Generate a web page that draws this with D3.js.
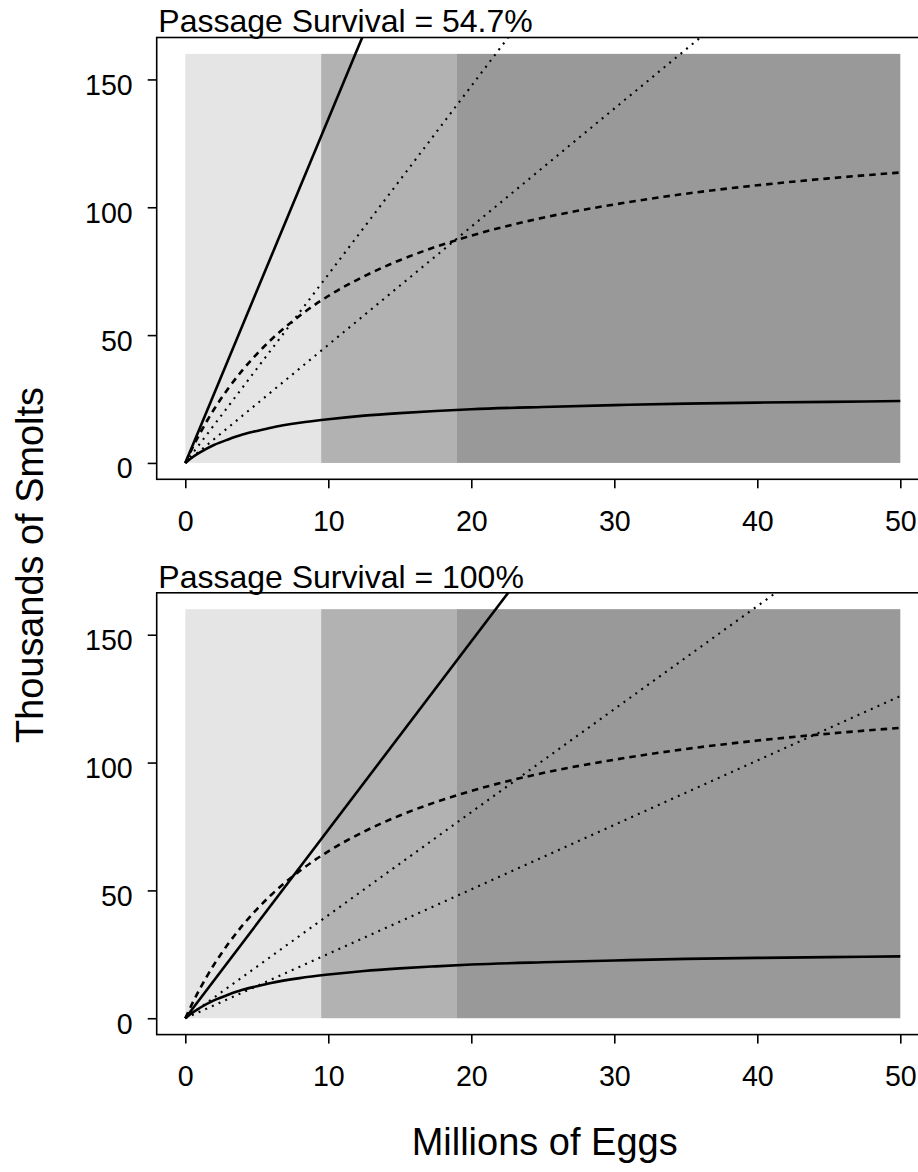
<!DOCTYPE html>
<html>
<head>
<meta charset="utf-8">
<script src="https://cdn.jsdelivr.net/npm/d3@7"></script>
<style>
  html, body { margin: 0; padding: 0; background: #ffffff; }
  svg { display: block; }
  text { font-family: "Liberation Sans", Arial, Helvetica, sans-serif; fill: #000; }
</style>
</head>
<body>
<svg id="chart" width="918" height="1172"></svg>
<script>
// ---------------- data ----------------
const eggTicks = [0, 10, 20, 30, 40, 50];
const smoltTicks = [0, 50, 100, 150];
const bandEdges = [0, 9.5, 19, 50];
const bandTop = 160;
const panelTitles = ["Passage Survival = 54.7%", "Passage Survival = 100%"];

// Beverton-Holt type curves (same in both panels)
const curveEggs    = [0, 0.5, 1, 2, 3, 4, 5, 6, 8, 10, 12.5, 15, 17.5, 20, 25, 30, 35, 40, 45, 50];
const dashedSmolts = [0, 5.9, 11.3, 20.9, 29.1, 36.3, 42.6, 48.2, 57.6, 65.3, 73.0, 79.3, 84.5, 88.9, 95.9, 101.1, 105.3, 108.6, 111.3, 113.6];
const solidSmolts  = [0, 2.2, 4.0, 7.0, 9.2, 11.1, 12.5, 13.8, 15.7, 17.1, 18.5, 19.5, 20.3, 21.0, 21.9, 22.6, 23.2, 23.6, 23.9, 24.2];

// Straight lines from origin: value reached at 50 million eggs (clipped by the plot box)
const lineEndEggs = 50;
const topLineEnds    = [672.5, 368.5, 231.0];
const bottomLineEnds = [368.5, 201.5, 126.0];
const lineKinds = ["solid", "dotted", "dotted"];

// ---------------- styles / layout ----------------
const bandColors = ["#e5e5e5", "#b2b2b2", "#999999"];
const svg = d3.select("#chart");
const fontFam = '"Liberation Sans", Arial, Helvetica, sans-serif';

const boxLeft = 156.7, boxRight = 928.9;
const panels = [
  { top: 37.5, bottom: 479.3, title: panelTitles[0], lineEnds: topLineEnds },
  { top: 592.8, bottom: 1034.6, title: panelTitles[1], lineEnds: bottomLineEnds }
];

const x = d3.scaleLinear().domain([-2, 52]).range([boxLeft, boxRight]);

panels.forEach((p, i) => {
  const y = d3.scaleLinear().domain([-6.4, 166.4]).range([p.bottom, p.top]);
  const g = svg.append("g");

  const clipId = "clip" + i;
  svg.append("clipPath").attr("id", clipId)
    .append("rect")
    .attr("x", boxLeft).attr("y", p.top)
    .attr("width", boxRight - boxLeft).attr("height", p.bottom - p.top);

  // bands
  g.selectAll("rect.band")
    .data(d3.range(bandEdges.length - 1))
    .join("rect")
    .attr("class", "band")
    .attr("x", k => x(bandEdges[k]))
    .attr("width", k => x(bandEdges[k + 1]) - x(bandEdges[k]))
    .attr("y", y(bandTop))
    .attr("height", y(0) - y(bandTop))
    .attr("fill", k => bandColors[k]);

  const plotG = g.append("g").attr("clip-path", `url(#${clipId})`);

  // straight lines
  p.lineEnds.forEach((v, k) => {
    const pts = [[0, 0], [lineEndEggs, v]];
    plotG.append("path")
      .attr("d", d3.line().x(d => x(d[0])).y(d => y(d[1]))(pts))
      .attr("fill", "none")
      .attr("stroke", "#000")
      .attr("stroke-width", lineKinds[k] === "solid" ? 2.6 : 2.1)
      .attr("stroke-dasharray", lineKinds[k] === "dotted" ? "2,5.3" : null)
      .attr("stroke-linecap", "butt");
  });

  const curveLine = d3.line()
    .x((d, j) => x(curveEggs[j]))
    .y(d => y(d))
    .curve(d3.curveMonotoneX);

  plotG.append("path")
    .attr("d", curveLine(dashedSmolts))
    .attr("fill", "none").attr("stroke", "#000")
    .attr("stroke-width", 2.6)
    .attr("stroke-dasharray", "6.5,5");

  plotG.append("path")
    .attr("d", curveLine(solidSmolts))
    .attr("fill", "none").attr("stroke", "#000")
    .attr("stroke-width", 2.6);

  // box
  g.append("rect")
    .attr("x", boxLeft).attr("y", p.top)
    .attr("width", boxRight - boxLeft).attr("height", p.bottom - p.top)
    .attr("fill", "none").attr("stroke", "#000").attr("stroke-width", 1.6);

  // x axis
  const xAxis = d3.axisBottom(x).tickValues(eggTicks).tickSize(9).tickPadding(0).tickFormat(d3.format("d"));
  const xa = g.append("g").attr("transform", `translate(0,${p.bottom})`).call(xAxis);
  xa.select(".domain").remove();
  xa.selectAll(".tick line").attr("stroke", "#000").attr("stroke-width", 1.6);
  xa.selectAll(".tick text")
    .attr("y", 51.5).attr("dy", null)
    .style("font-size", "28.6px").style("font-family", fontFam).attr("fill", "#000");

  // y axis
  const yAxis = d3.axisLeft(y).tickValues(smoltTicks).tickSize(9).tickPadding(0).tickFormat(d3.format("d"));
  const ya = g.append("g").attr("transform", `translate(${boxLeft},0)`).call(yAxis);
  ya.select(".domain").remove();
  ya.selectAll(".tick line").attr("stroke", "#000").attr("stroke-width", 1.6);
  ya.selectAll(".tick text")
    .attr("x", -24).attr("dy", null).attr("y", 15)
    .attr("text-anchor", "end")
    .style("font-size", "28.6px").style("font-family", fontFam).attr("fill", "#000");

  // panel title
  g.append("text")
    .attr("x", 158.3).attr("y", p.top - 5.2)
    .style("font-size", "32px")
    .text(p.title);
});

// axis titles
svg.append("text")
  .attr("x", 544.7).attr("y", 1155)
  .attr("text-anchor", "middle")
  .style("font-size", "38px")
  .text("Millions of Eggs");

svg.append("text")
  .attr("transform", "translate(43,565) rotate(-90)")
  .attr("text-anchor", "middle")
  .style("font-size", "37.9px")
  .text("Thousands of Smolts");
</script>
</body>
</html>
